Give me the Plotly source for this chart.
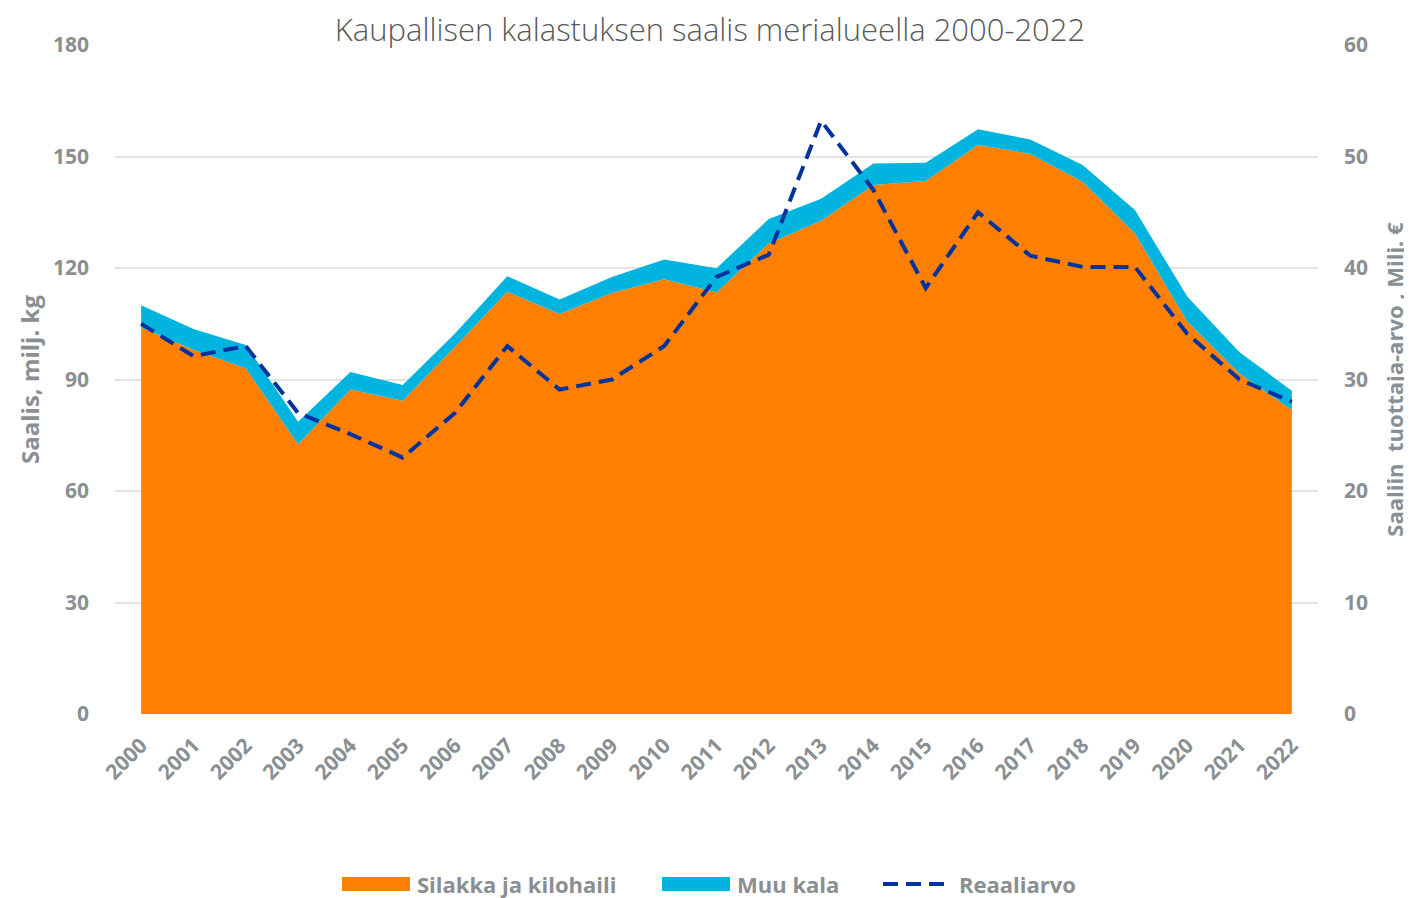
import plotly.graph_objects as go

years = list(range(2000, 2023))
silakka = [104, 98, 93, 72.6, 87.3, 84.3, 98.8, 113.6, 107.6, 113.3, 117, 113.4,
           126.6, 132.7, 142.3, 143.4, 153.1, 150.7, 143.2, 129.3, 105.6, 91.6, 81.8]
total = [110, 103.6, 99.3, 78.6, 92, 88.5, 102.4, 117.8, 111.5, 117.6, 122.3, 119.9,
         133.2, 138.6, 148.1, 148.3, 157.3, 154.6, 147.7, 135.6, 112.3, 97.3, 87]
muu = [round(t - s, 2) for t, s in zip(total, silakka)]
reaali = [35, 32.1, 33, 27, 25.1, 23, 27, 33, 29.1, 30, 33, 39.2,
          41.2, 53.2, 47, 38.2, 45, 41.1, 40.1, 40.1, 34.1, 30, 28]
left_ticks = [0, 30, 60, 90, 120, 150, 180]
right_ticks = [0, 10, 20, 30, 40, 50, 60]

ORANGE = "#FF8000"
CYAN = "#00B4E0"
NAVY = "#0033A0"
GRAY = "#8A8F93"
FONT = "Open Sans"

fig = go.Figure()
fig.add_trace(go.Scatter(x=years, y=silakka, name="Silakka ja kilohaili",
                         stackgroup="one", mode="none", fillcolor=ORANGE,
                         showlegend=False))
fig.add_trace(go.Scatter(x=years, y=muu, name="Muu kala",
                         stackgroup="one", mode="none", fillcolor=CYAN,
                         showlegend=False))
fig.add_trace(go.Scatter(x=years, y=reaali, name="Reaaliarvo", yaxis="y2",
                         mode="lines", line=dict(color=NAVY, width=4, dash="15px,8px"),
                         showlegend=False))

OFF = 8  # page body margin
W, H = 1412 - OFF, 898 - OFF
L = 115 - OFF
T = 45 - OFF
R = W - (1318 - OFF)
B = H - (714 - OFF)
pw, ph = W - L - R, H - T - B

def px(x):
    return (x - OFF - L) / pw

def py(y):
    return (H - B - (y - OFF)) / ph

# manual legend (reference pixel positions)
shapes = [
    dict(type="rect", xref="paper", yref="paper", x0=px(342), x1=px(410), y0=py(891), y1=py(877),
         fillcolor=ORANGE, line=dict(width=0)),
    dict(type="rect", xref="paper", yref="paper", x0=px(662), x1=px(730), y0=py(891), y1=py(877),
         fillcolor=CYAN, line=dict(width=0)),
    dict(type="line", xref="paper", yref="paper", x0=px(883), x1=px(948), y0=py(884), y1=py(884),
         line=dict(color=NAVY, width=4, dash="15px,8px")),
]
LEG_FONT = dict(family=FONT, size=22, color=GRAY, weight="bold")
annotations = [
    dict(text="Silakka ja kilohaili", x=px(415), y=py(884), xref="paper", yref="paper",
         xanchor="left", yanchor="middle", showarrow=False, font=LEG_FONT),
    dict(text="Muu kala", x=px(735), y=py(884), xref="paper", yref="paper",
         xanchor="left", yanchor="middle", showarrow=False, font=LEG_FONT),
    dict(text="Reaaliarvo", x=px(957), y=py(884), xref="paper", yref="paper",
         xanchor="left", yanchor="middle", showarrow=False, font=LEG_FONT),
]

TICK_FONT = dict(family=FONT, size=21, color=GRAY, weight="bold")

fig.update_layout(
    width=W, height=H,
    margin=dict(l=L, r=R, t=T, b=B, autoexpand=False),
    paper_bgcolor="white", plot_bgcolor="white",
    title=dict(text="Kaupallisen kalastuksen saalis merialueella 2000-2022",
               x=0.5, xanchor="center", y=1 - 22 / H, yanchor="middle",
               font=dict(family=FONT, size=31, color="#595959", weight=300)),
    xaxis=dict(range=[1999.5, 2022.5], tickvals=years, ticktext=[str(y) for y in years],
               tickangle=-45, showgrid=False, zeroline=False, showline=False,
               ticks="", ticklabelstandoff=14,
               tickfont=dict(family=FONT, size=21, color=GRAY, weight="bold")),
    yaxis=dict(range=[0, 180], tickvals=left_ticks, showgrid=True, gridcolor="#E3E3E3",
               gridwidth=2, zeroline=False, showline=False, ticks="",
               ticklabelstandoff=25, tickfont=TICK_FONT,
               title=dict(text="Saalis, milj. kg", standoff=6,
                          font=dict(family=FONT, size=24, color=GRAY, weight="bold"))),
    yaxis2=dict(range=[0, 60], tickvals=right_ticks, overlaying="y", side="right",
                showgrid=False, zeroline=False, showline=False, ticks="",
                ticklabelstandoff=25, tickfont=TICK_FONT,
                title=dict(text="Saaliin  tuottaja-arvo , Milj. €", standoff=20,
                           font=dict(family=FONT, size=22, color=GRAY, weight="bold"))),
    shapes=shapes, annotations=annotations,
    showlegend=False,
)

fig.write_html("out.html")
